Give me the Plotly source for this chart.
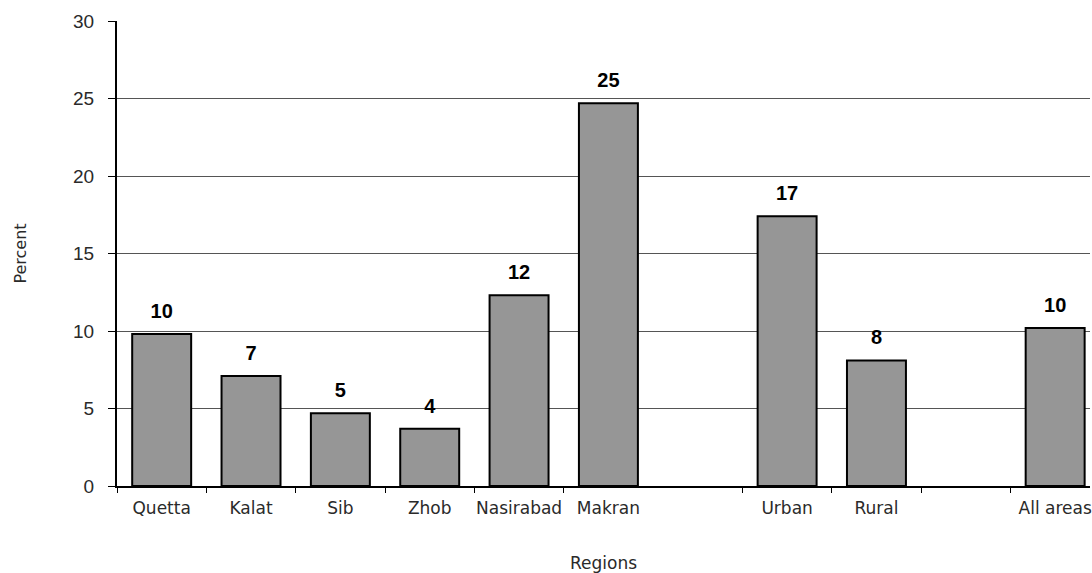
import plotly.graph_objects as go

# categories (blank entries are the gaps between groups)
regions = ["Quetta", "Kalat", "Sib", "Zhob", "Nasirabad", "Makran", " ",
           "Urban", "Rural", "  ", "All areas"]
percent = [9.8, 7.1, 4.7, 3.7, 12.3, 24.7, None, 17.4, 8.1, None, 10.2]
labels = ["10", "7", "5", "4", "12", "25", "", "17", "8", "", "10"]

# tick marks sit on category boundaries, one is missing in the original
tick_pos = [-0.5, 0.5, 1.5, 2.5, 3.5, 4.5, 6.5, 7.5, 8.5, 9.5, 10.5]

xr = [-0.5, 10.39]
sans = "DejaVu Sans, Verdana, sans-serif"
arial = "Liberation Sans, Arial, sans-serif"

fig = go.Figure()
fig.add_trace(go.Bar(
    x=regions, y=percent, width=0.66,
    marker=dict(color="#969696", line=dict(color="black", width=2)),
    hoverinfo="x+y",
))
# value labels, lifted above the bars by an invisible marker
fig.add_trace(go.Scatter(
    x=regions, y=percent, mode="markers+text", text=labels,
    textposition="top center", cliponaxis=False,
    marker=dict(size=16, color="rgba(0,0,0,0)"),
    textfont=dict(family=arial, size=20, color="black", weight="bold"),
    hoverinfo="skip",
))
# invisible trace so the tick-only axis is drawn
fig.add_trace(go.Scatter(x=tick_pos, y=[0] * len(tick_pos), xaxis="x2",
                         mode="markers", marker=dict(opacity=0),
                         hoverinfo="skip"))

fig.update_layout(
    width=1092, height=573,
    margin=dict(l=117, r=0, t=21, b=87),
    paper_bgcolor="white", plot_bgcolor="white",
    showlegend=False,
    font=dict(family=sans, size=17, color="#2a2a2a"),
    xaxis=dict(
        range=xr, showline=True, linecolor="black", linewidth=1.5,
        ticks="", showgrid=False, tickfont=dict(size=17),
        ticklabelstandoff=6,
        title=dict(text="Regions", standoff=40, font=dict(size=17)),
    ),
    xaxis2=dict(
        overlaying="x", range=xr, side="bottom", tickvals=tick_pos,
        ticks="outside", ticklen=6, tickcolor="black", tickwidth=1,
        showticklabels=False, showgrid=False, showline=False, zeroline=False,
    ),
    yaxis=dict(
        range=[0, 30], dtick=5, showline=True, linecolor="black", linewidth=2,
        ticks="outside", ticklen=7, tickcolor="black",
        showgrid=True, gridcolor="#555555", gridwidth=1, zeroline=False,
        tickfont=dict(family=arial, size=19), ticklabelstandoff=10,
        title=dict(text="Percent", standoff=42, font=dict(size=16)),
    ),
)

fig.write_html("out.html", config={"displayModeBar": False},
               post_script="document.body.style.margin='0';"
                           "document.body.style.overflow='hidden';")
